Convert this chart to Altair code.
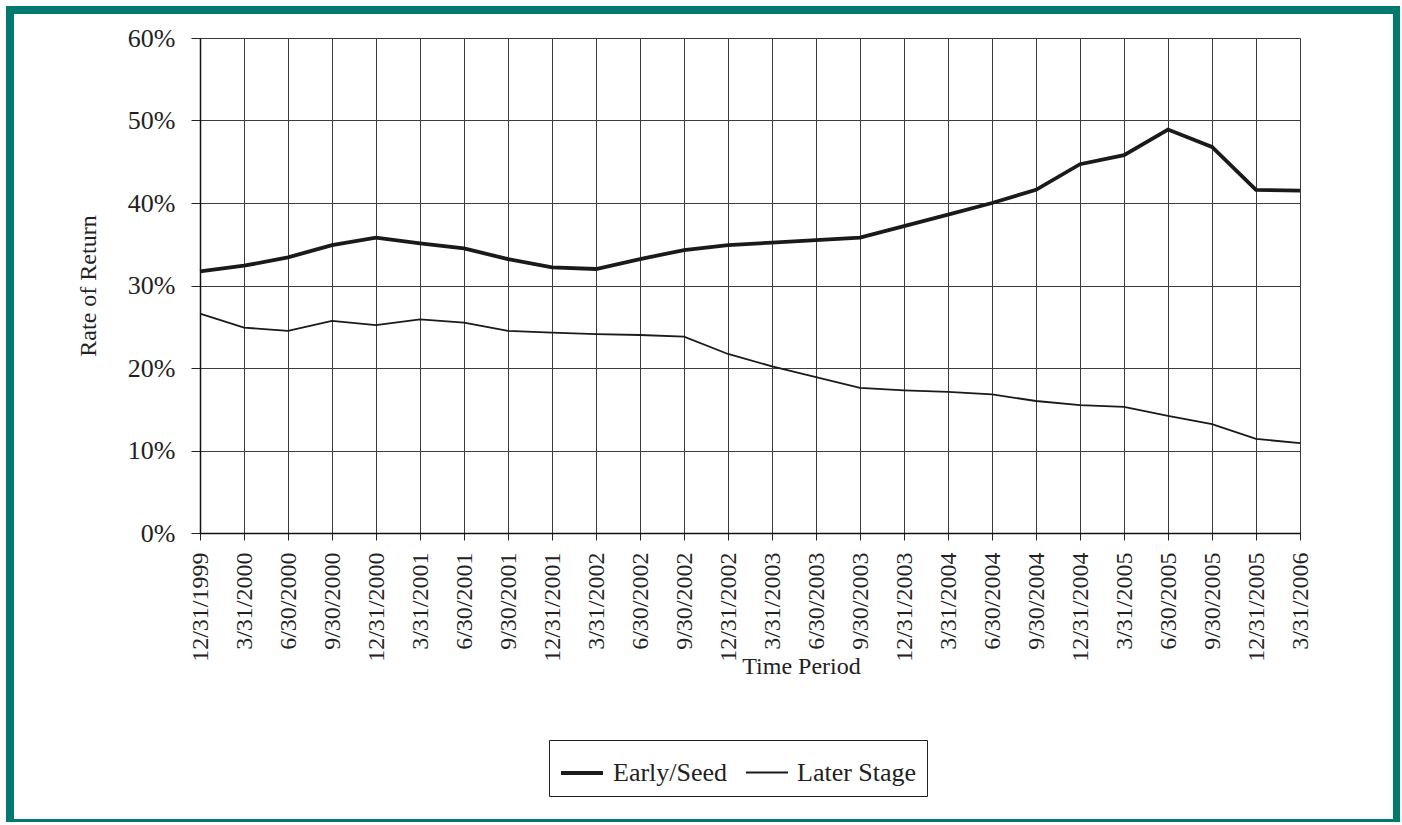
import altair as alt
import pandas as pd

dates = ["12/31/1999", "3/31/2000", "6/30/2000", "9/30/2000", "12/31/2000",
         "3/31/2001", "6/30/2001", "9/30/2001", "12/31/2001", "3/31/2002",
         "6/30/2002", "9/30/2002", "12/31/2002", "3/31/2003", "6/30/2003",
         "9/30/2003", "12/31/2003", "3/31/2004", "6/30/2004", "9/30/2004",
         "12/31/2004", "3/31/2005", "6/30/2005", "9/30/2005", "12/31/2005",
         "3/31/2006"]
early_seed = [31.7, 32.4, 33.4, 34.9, 35.8, 35.1, 34.5, 33.2, 32.2, 32.0,
              33.2, 34.3, 34.9, 35.2, 35.5, 35.8, 37.2, 38.6, 40.0, 41.6,
              44.7, 45.8, 48.9, 46.8, 41.6, 41.5]
later_stage = [26.6, 24.9, 24.5, 25.7, 25.2, 25.9, 25.5, 24.5, 24.3, 24.1,
               24.0, 23.8, 21.7, 20.2, 18.9, 17.6, 17.3, 17.1, 16.8, 16.0,
               15.5, 15.3, 14.2, 13.2, 11.4, 10.9]
series_names = ["Early/Seed", "Later Stage"]
y_ticks = [0, 10, 20, 30, 40, 50, 60]

df = pd.DataFrame({
    "date": dates * 2,
    "value": early_seed + later_stage,
    "series": [series_names[0]] * len(dates) + [series_names[1]] * len(dates),
})

FONT = "Liberation Serif"
TEAL = "#007A6E"

lines = alt.Chart(df).mark_line(color="#1a1a1a").encode(
    x=alt.X("date:N", sort=dates, scale=alt.Scale(type="point", padding=0),
            axis=alt.Axis(title="Time Period", labelAngle=-90, labelPadding=12,
                          labelFontSize=24,
                          tickSize=7, grid=True, titleX=601, titleY=133,
                          titleAlign="center", titleBaseline="middle")),
    y=alt.Y("value:Q", scale=alt.Scale(domain=[0, 60], nice=False),
            axis=alt.Axis(title="Rate of Return", values=y_ticks,
                          labelExpr="datum.value + '%'", tickSize=9,
                          labelFontSize=26,
                          labelPadding=16, grid=True, titleX=-112,
                          titleY=247.5, titleAngle=-90, titleAlign="center",
                          titleBaseline="middle")),
    strokeWidth=alt.StrokeWidth(
        "series:N",
        scale=alt.Scale(domain=series_names, range=[3.8, 1.8]),
        legend=alt.Legend(title=None, orient="none", legendX=349, legendY=702,
                          direction="horizontal", strokeColor="#222",
                          fillColor="white", padding=10, symbolType="stroke",
                          symbolSize=1764, symbolStrokeColor="#1a1a1a",
                          labelFont=FONT, labelFontSize=26, labelColor="#222",
                          columnPadding=14, labelOffset=8),
    ),
    detail="series:N",
)

dummy = pd.DataFrame({"a": [0]})


def frame_rect(x, x2, y, y2):
    return alt.Chart(dummy).mark_rect(color=TEAL).encode(
        x=alt.value(x), x2=alt.value(x2), y=alt.value(y), y2=alt.value(y2)
    )


frame = [
    frame_rect(-194, 1200, -32, -24),
    frame_rect(-194, -186, -32, 784),
    frame_rect(1193, 1200, -32, 784),
    frame_rect(-194, 1200, 781, 784),
]

chart = alt.layer(lines, *frame).properties(
    width=1100,
    height=495,
    autosize=alt.AutoSizeParams(type="none"),
    padding={"left": 200, "top": 38, "right": 102, "bottom": 292},
    background="white",
).configure_view(strokeWidth=0).configure_axis(
    labelFont=FONT, labelFontSize=24, labelColor="#222",
    titleFont=FONT, titleFontSize=24, titleColor="#222", titleFontWeight="normal",
    gridColor="#3c3c3c", gridWidth=1, gridOpacity=1,
    domainColor="#111", domainWidth=1.5, tickColor="#222", tickWidth=1,
).configure_legend(
    labelFont=FONT, labelFontSize=26, labelColor="#222",
)

chart.save("out.html", embed_options={"renderer": "svg", "actions": False})
